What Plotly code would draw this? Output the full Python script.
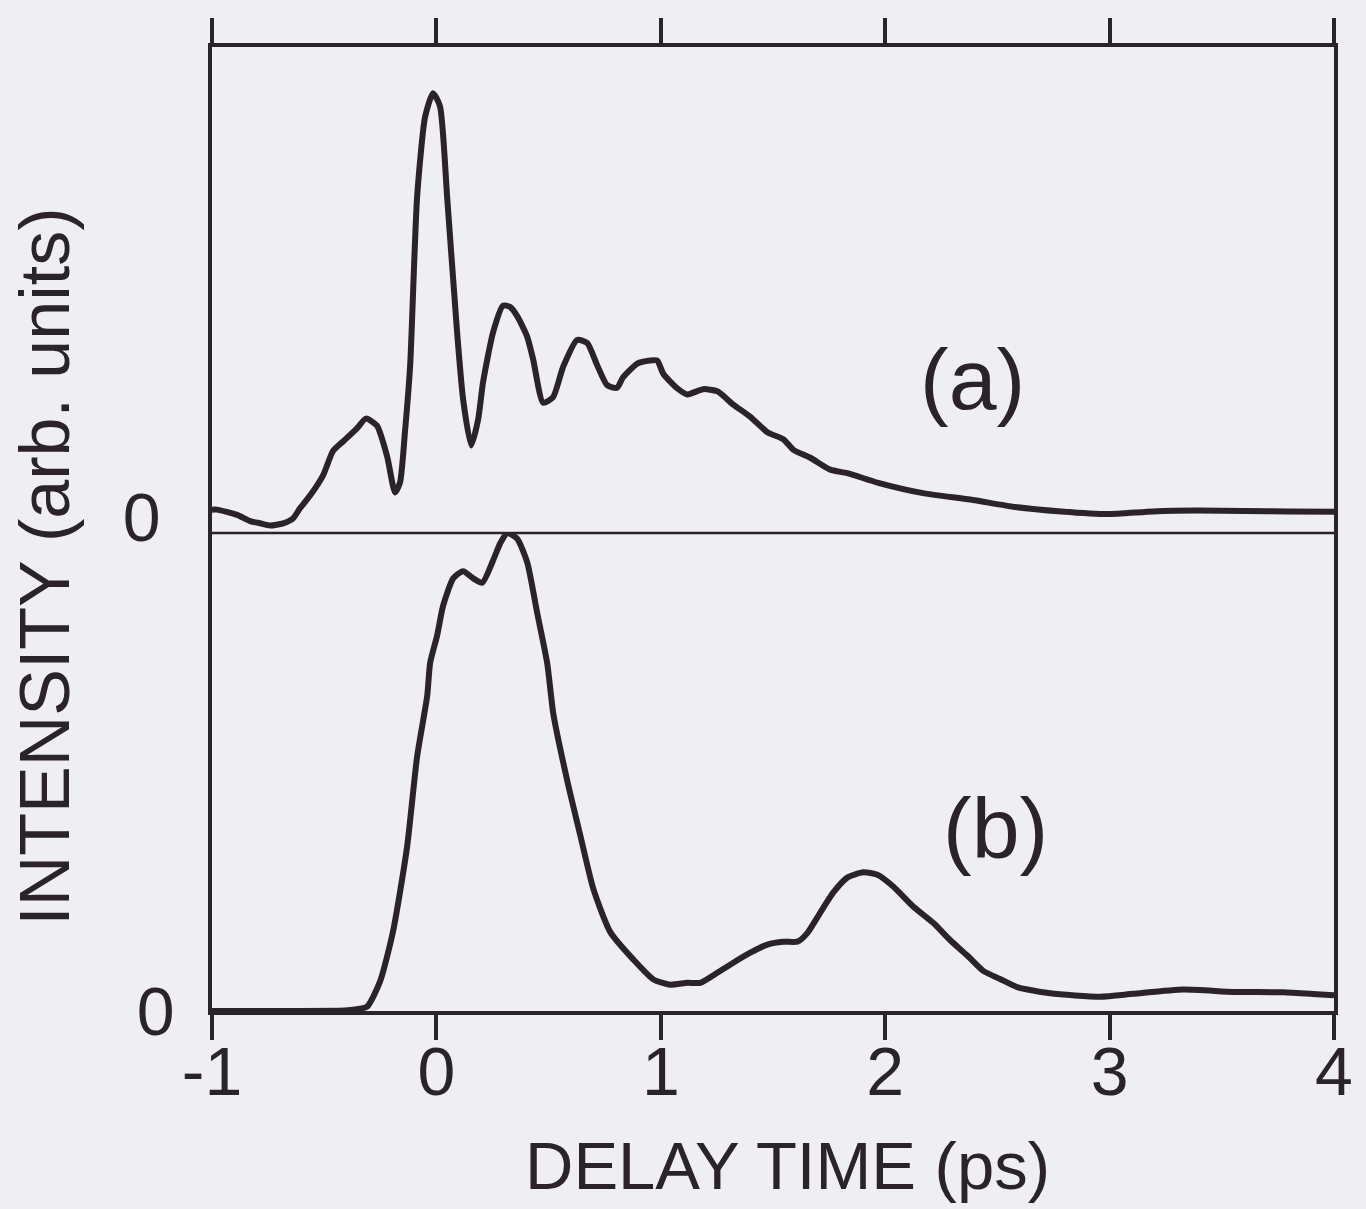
import plotly.graph_objects as go

# ---- data ----
# (a) upper trace: delay time (ps) and intensity (arb. units, main peak = 1)
delay_a = [-1.000, -0.978, -0.888, -0.830, -0.786, -0.741, -0.683, -0.639, -0.608, -0.563,
           -0.505, -0.461, -0.416, -0.354, -0.314, -0.265, -0.220, -0.184, -0.162, -0.140,
           -0.117, -0.086, -0.050, -0.015, 0.016, 0.048, 0.092, 0.119, 0.155, 0.186,
           0.208, 0.253, 0.297, 0.328, 0.360, 0.404, 0.431, 0.476, 0.520, 0.565,
           0.627, 0.672, 0.716, 0.761, 0.805, 0.832, 0.895, 0.953, 0.984, 1.011,
           1.073, 1.118, 1.189, 1.252, 1.323, 1.399, 1.475, 1.546, 1.591, 1.666,
           1.755, 1.831, 1.969, 2.174, 2.379, 2.579, 2.784, 2.989, 3.194, 3.394,
           3.599, 3.800, 4.000]
intensity_a = [0.053, 0.053, 0.041, 0.027, 0.022, 0.017, 0.022, 0.033, 0.056, 0.085,
               0.131, 0.186, 0.208, 0.238, 0.260, 0.244, 0.175, 0.092, 0.115, 0.230,
               0.381, 0.764, 0.947, 1.000, 0.970, 0.763, 0.458, 0.304, 0.199, 0.258,
               0.343, 0.457, 0.517, 0.514, 0.493, 0.447, 0.395, 0.296, 0.309, 0.378,
               0.439, 0.432, 0.382, 0.336, 0.330, 0.354, 0.385, 0.392, 0.392, 0.362,
               0.329, 0.315, 0.327, 0.322, 0.292, 0.264, 0.229, 0.213, 0.189, 0.171,
               0.144, 0.136, 0.114, 0.090, 0.076, 0.059, 0.049, 0.043, 0.049, 0.051,
               0.050, 0.049, 0.048]

# (b) lower trace
delay_b = [-1.000, -0.700, -0.407, -0.363, -0.309, -0.251, -0.193, -0.131, -0.086, -0.041,
           -0.028, 0.003, 0.030, 0.075, 0.119, 0.164, 0.204, 0.253, 0.284, 0.316,
           0.360, 0.405, 0.449, 0.494, 0.521, 0.583, 0.641, 0.699, 0.775, 0.877,
           0.967, 1.042, 1.118, 1.176, 1.252, 1.323, 1.399, 1.475, 1.546, 1.609,
           1.653, 1.711, 1.769, 1.831, 1.903, 1.965, 2.037, 2.126, 2.215, 2.290,
           2.366, 2.437, 2.512, 2.588, 2.735, 2.958, 3.105, 3.328, 3.551, 3.774,
           3.925, 4.000]
intensity_b = [0.000, 0.000, 0.001, 0.003, 0.009, 0.062, 0.167, 0.342, 0.532, 0.659,
               0.728, 0.785, 0.848, 0.905, 0.920, 0.905, 0.896, 0.943, 0.978, 1.000,
               0.988, 0.938, 0.833, 0.727, 0.622, 0.482, 0.368, 0.256, 0.165, 0.108,
               0.066, 0.055, 0.059, 0.059, 0.080, 0.101, 0.122, 0.139, 0.145, 0.145,
               0.163, 0.206, 0.248, 0.279, 0.290, 0.285, 0.260, 0.218, 0.184, 0.148,
               0.116, 0.084, 0.067, 0.050, 0.037, 0.030, 0.036, 0.045, 0.040, 0.039,
               0.035, 0.033]

x_ticks = [-1, 0, 1, 2, 3, 4]
x_tick_text = ["-1", "0", "1", "2", "3", "4"]

INK = "#2a2328"
PAPER = "#efeef1"
FONT = "Liberation Sans, Arial, Helvetica, sans-serif"

fig = go.Figure()
fig.add_trace(go.Scatter(x=delay_a, y=intensity_a, xaxis="x2", yaxis="y2", mode="lines",
                         line=dict(color=INK, width=6, shape="spline", smoothing=0.6),
                         showlegend=False, name="(a)"))
fig.add_trace(go.Scatter(x=delay_b, y=intensity_b, xaxis="x", yaxis="y", mode="lines",
                         line=dict(color=INK, width=6, shape="spline", smoothing=0.6),
                         showlegend=False, name="(b)"))

split = 0.4959
axis_common = dict(showgrid=False, zeroline=False, showline=True, linecolor=INK, linewidth=3.8)

fig.update_layout(
    width=1366, height=1209,
    margin=dict(l=212, r=32, t=47, b=198),
    paper_bgcolor=PAPER, plot_bgcolor=PAPER,
    font=dict(family=FONT, color=INK, size=68),
    xaxis=dict(domain=[0, 1], anchor="y", range=[-1, 4], tickmode="array",
               tickvals=x_ticks, ticktext=x_tick_text, ticks="outside", ticklen=25,
               tickwidth=3.8, tickcolor=INK, tickfont=dict(size=68),
               ticklabelstandoff=-27, **axis_common),
    xaxis2=dict(domain=[0, 1], anchor="y2", side="top", matches="x", range=[-1, 4],
                tickmode="array", tickvals=x_ticks, ticks="outside", ticklen=25,
                tickwidth=3.8, tickcolor=INK, showticklabels=False, **axis_common),
    yaxis=dict(domain=[0, split], anchor="x", range=[0, 1.0], tickmode="array",
               tickvals=[0], ticktext=["0"], ticks="", mirror=True,
               ticklabelstandoff=20, tickfont=dict(size=68), **axis_common),
    yaxis2=dict(domain=[split, 1], anchor="x2", range=[0, 1.105], tickmode="array",
                tickvals=[0], ticktext=["0"], ticks="", mirror=True,
                ticklabelstandoff=34, ticklabelshift=-16, tickfont=dict(size=68),
                **axis_common),
    shapes=[dict(type="line", xref="paper", yref="paper", x0=0, x1=1, y0=split, y1=split,
                 line=dict(color=INK, width=2.6), layer="below")],
    annotations=[
        dict(text="INTENSITY (arb. units)", xref="paper", yref="paper", x=-0.149, y=0.4606,
             textangle=-90, showarrow=False, xanchor="center", yanchor="middle",
             font=dict(size=70, family=FONT, color=INK)),
        dict(text="DELAY TIME (ps)", xref="paper", yref="paper", x=0.5125, y=-0.160,
             showarrow=False, xanchor="center", yanchor="middle",
             font=dict(size=67, family=FONT, color=INK)),
        dict(text="(a)", xref="x2", yref="y2", x=2.39, y=0.350, showarrow=False,
             xanchor="center", yanchor="middle", font=dict(size=86, family=FONT, color=INK)),
        dict(text="(b)", xref="x", yref="y", x=2.49, y=0.382, showarrow=False,
             xanchor="center", yanchor="middle", font=dict(size=86, family=FONT, color=INK)),
    ],
)

fig.write_html("out.html")
